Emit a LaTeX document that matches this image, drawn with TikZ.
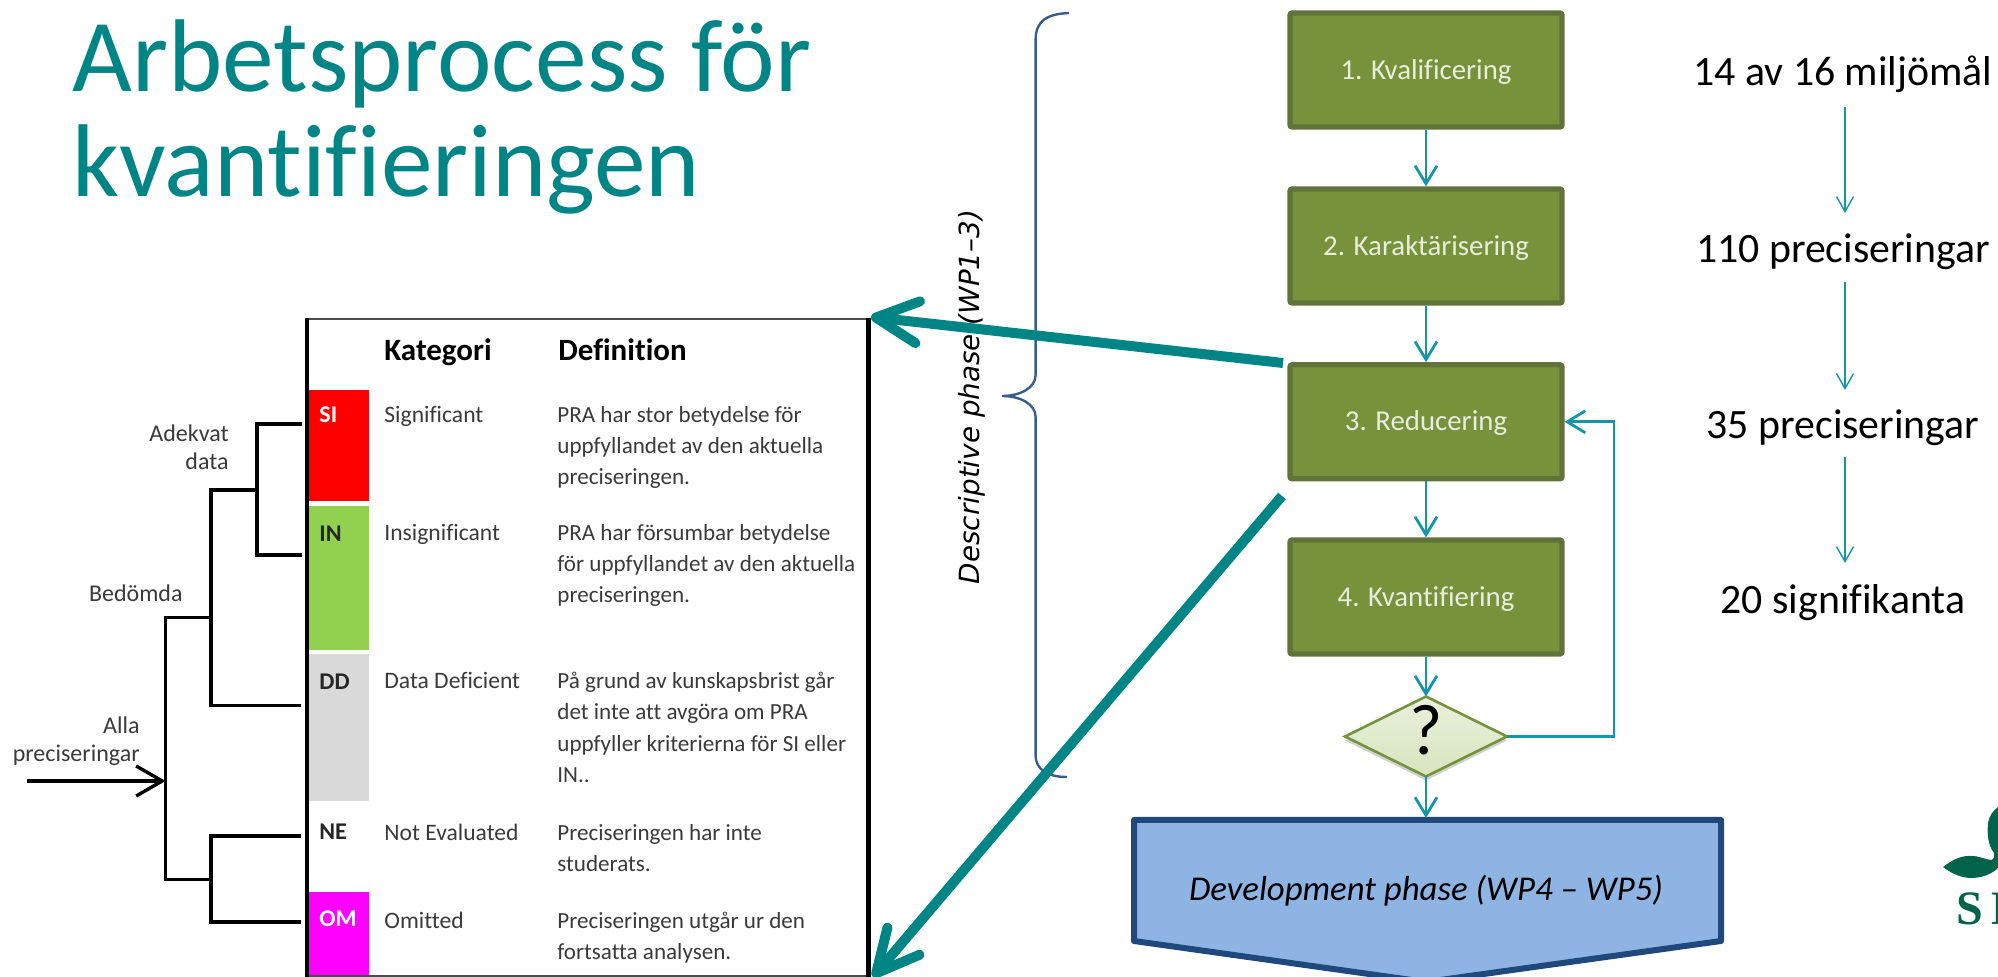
\documentclass[tikz,border=0pt]{standalone}
\usepackage{fontspec}
\setmainfont[Ligatures=CommonOff]{Carlito}
\newfontfamily\vfont{DejaVu Sans}
\newfontfamily\serfont{Liberation Serif}
\usetikzlibrary{arrows.meta,shapes.geometric}
\definecolor{tealth}{HTML}{008587}
\definecolor{flow}{HTML}{1496A6}
\definecolor{boxfill}{HTML}{77923B}
\definecolor{boxline}{HTML}{5F733A}
\definecolor{devfill}{HTML}{8EB4E3}
\definecolor{devline}{HTML}{1F497D}
\definecolor{bracecol}{HTML}{385D8A}
\definecolor{tabtext}{HTML}{3A3A3A}
\definecolor{slugreen}{HTML}{00634A}
\definecolor{qtop}{HTML}{EAF1DD}
\definecolor{qbot}{HTML}{D7E4BD}
\definecolor{qline}{HTML}{76923C}
\definecolor{ingreen}{HTML}{92D050}
\definecolor{omcol}{HTML}{FF00FF}
\definecolor{boxtext}{HTML}{E8EEDD}
\newcommand{\fsz}[2]{\fontsize{#1}{#2}\selectfont}
\tikzset{
  flowbox/.style={draw=boxline,fill=boxfill,line width=2.6pt,rounded corners=1pt,minimum width=136pt,minimum height=57pt,inner sep=0,outer sep=1.3pt,text=boxtext,font=\fsz{14.4}{16},text height=9.2pt,text depth=0pt},
  flowarrow/.style={draw=flow,line width=1.4pt,-{Straight Barb[length=9pt,width=11pt]}},
  thinarrow/.style={draw=flow,line width=.7pt,-{Straight Barb[length=7.5pt,width=8.5pt]}},
  bigarrow/.style={draw=tealth,line width=5pt,-{Straight Barb[length=21pt,width=21pt,round]}},
  tree/.style={draw=black,line width=1.7pt},
  treetext/.style={inner sep=0,text=tabtext,font=\fsz{12}{14},align=right},
  count/.style={inner sep=0,text=black,font=\fsz{20.9}{24},text height=15pt,text depth=0pt},
  cell/.style={anchor=north west,inner sep=0,text=tabtext,font=\fsz{11.8}{15.6},align=left},
  defcell/.style={cell,font=\fsz{11.55}{15.6}},
  head/.style={anchor=base west,inner sep=0,text=black,font=\fsz{15.5}{18}\bfseries},
  code/.style={anchor=base west,inner sep=0,font=\fsz{12}{14}\bfseries},
}
\begin{document}
\begin{tikzpicture}[x=.5pt,y=-.5pt]
\useasboundingbox (0,0) rectangle (1998,977);
\clip (0,0) rectangle (1998,977);
% title
\node[anchor=base west,inner sep=0,text=tealth,font=\fsz{51.7}{60}] (t1) at (72,92) {Arbetsprocess för};
\node[anchor=base west,inner sep=0,text=tealth,font=\fsz{51.7}{60}] (t2) at (72,197) {kvantifieringen};
% table
\fill[red] (308,390) rectangle (369,501);
\fill[ingreen] (308,506) rectangle (369,650);
\fill[black!15] (308,654) rectangle (369,801);
\fill[omcol] (308,892) rectangle (369,977);
\draw[draw=black!70,line width=1pt] (307,319) -- (868,319);
\draw[draw=black!70,line width=1pt] (307,976) -- (868,976);
\draw[black,line width=2pt] (307,318) -- (307,977);
\draw[black,line width=2.5pt] (868,318) -- (868,977);
\node[head] (hk) at (384,361) {Kategori};
\node[head] (hd) at (558,361) {Definition};
\node[code,text=white] (c1) at (319,423) {SI};
\node[code,text=black!85] (c2) at (319,542) {IN};
\node[code,text=black!85] (c3) at (319,690) {DD};
\node[code,text=black!85] (c4) at (319,840) {NE};
\node[code,text=white] (c5) at (319,927) {OM};
\node[cell] (n1) at (384,406) {Significant};
\node[cell] (n2) at (384,524) {Insignificant};
\node[cell] (n3) at (384,672) {Data Deficient};
\node[cell] (n4) at (384,824) {Not Evaluated};
\node[cell] (n5) at (384,912) {Omitted};
\node[defcell] (d1) at (557,406) {PRA har stor betydelse för\\uppfyllandet av den aktuella\\preciseringen.};
\node[defcell] (d2) at (557,524) {PRA har försumbar betydelse\\för uppfyllandet av den aktuella\\preciseringen.};
\node[defcell] (d3) at (557,672) {På grund av kunskapsbrist går\\det inte att avgöra om PRA\\uppfyller kriterierna för SI eller\\IN..};
\node[defcell] (d4) at (557,824) {Preciseringen har inte\\studerats.};
\node[defcell] (d5) at (557,912) {Preciseringen utgår ur den\\fortsatta analysen.};
% tree
\coordinate (a0) at (27,781);
\coordinate (a1) at (165.6,781);
\draw[tree] (302,424) -| (257,555) -- (302,555);
\draw[tree] (257,490) -| (211,705.5) -- (301,705.5);
\draw[tree] (211,617.5) -| (165.6,879.4) -- (211,879.4);
\draw[tree] (301,836) -| (211,922) -- (301,922);
\draw[tree,-{Straight Barb[length=13pt,width=15pt]}] (a0) -- (a1);
\node[treetext,anchor=base east] (l1) at (229,470) {Adekvat\\data};
\node[treetext,anchor=base east] (l2) at (183,602) {Bedömda};
\node[treetext,anchor=base east] (l3) at (140,762) {Alla\\preciseringar};
% brace and side label
\node[rotate=90,inner sep=0,text=black,font=\vfont\itshape\fsz{13.9}{16}] (desc) at (972,397) {Descriptive phase (WP1–3)};
\draw[draw=bracecol,line width=1.2pt] (1069,13) .. controls (1048,14) and (1035.6,20) .. (1035.6,40) -- (1035.6,375) .. controls (1035.6,388) and (1020,396) .. (1002,396) .. controls (1020,396) and (1035.6,404) .. (1035.6,417) -- (1035.6,755) .. controls (1035.6,770) and (1048,777) .. (1067,777);
% flow
\node[flowbox] (b1) at (1426,70) {1. Kvalificering};
\node[flowbox] (b2) at (1426,246) {2. Karaktärisering};
\node[flowbox] (b3) at (1426,421.8) {3. Reducering};
\node[flowbox] (b4) at (1426,597) {4. Kvantifiering};
\node[diamond,aspect=1.62,draw=qline,line width=1.3pt,inner sep=0,outer sep=0,minimum width=81pt,minimum height=40pt,top color=qtop,bottom color=qbot,text=black,font=\fsz{36}{38},text height=18pt,text depth=0pt,preaction={fill=black,opacity=.18,transform canvas={yshift=-2pt}}] (q) at (1426,736.5) {?};
\coordinate (devtop) at (1426,818);
\coordinate (loopa) at (1614,736.5);
\coordinate (loopb) at (1614,421.8);
\draw[draw=devline,fill=devfill,line width=3pt,line join=round] (1134,820) -- (1721,820) -- (1721,941) -- (1426,982) -- (1134,941) -- cycle;
\node[inner sep=0,text=black,font=\itshape\fsz{17.4}{20}] (dev) at (1426,891) {Development phase (WP4 – WP5)};
\draw[flowarrow] (b1) -- (b2);
\draw[flowarrow] (b2) -- (b3);
\draw[flowarrow] (b3) -- (b4);
\draw[flowarrow] (b4) -- (q);
\draw[flowarrow] (q) -- (devtop);
\draw[flowarrow] (q.east) -- (loopa) -- (loopb) -- (b3.east);
% counts
\node[count] (k1) at (1843,71) {14 av 16 miljömål};
\node[count] (k2) at (1843,248) {110 preciseringar};
\node[count] (k3) at (1843,424) {35 preciseringar};
\node[count] (k4) at (1843,599) {20 signifikanta};
\coordinate (k1s) at (1845,107); \coordinate (k1e) at (1845,213);
\coordinate (k2s) at (1845,282); \coordinate (k2e) at (1845,390);
\coordinate (k3s) at (1845,457); \coordinate (k3e) at (1845,563);
\draw[thinarrow] (k1s) -- (k1e);
\draw[thinarrow] (k2s) -- (k2e);
\draw[thinarrow] (k3s) -- (k3e);
% big arrows
\coordinate (g1) at (1283,363);
\coordinate (g1t) at (871,317);
\coordinate (g2) at (1282,496);
\coordinate (g2t) at (873,977);
\draw[bigarrow] (g1) -- (g1t);
\draw[bigarrow] (g2) -- (g2t);
% logo
\fill[slugreen] (1943,867) .. controls (1952,860) and (1962,855) .. (1972,856) .. controls (1980,856) and (1986,860) .. (1992,860) .. controls (1994,859) and (1995,856) .. (1994,853) .. controls (1988,845) and (1987,835) .. (1988,823) .. controls (1989,816) and (1993,811) .. (1998,807) -- (1998,868) .. controls (1990,876) and (1975,880) .. (1963,877) .. controls (1955,875) and (1948,871) .. (1943,867) -- cycle;
\node[anchor=base west,inner sep=0,text=slugreen,font=\serfont\bfseries\fsz{24}{26}] (slu) at (1956,925) {S\kern4pt L};
\end{tikzpicture}
\end{document}
